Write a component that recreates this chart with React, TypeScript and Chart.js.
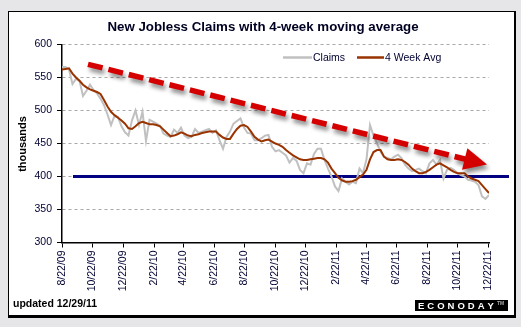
import React, { useEffect, useRef } from "react";
import { Chart, registerables } from "chart.js";

Chart.register(...registerables);

const FONT = "'Liberation Sans', Arial, sans-serif";

// x-axis tick labels (every two months)
const tickLabels = [
  "8/22/09", "10/22/09", "12/22/09", "2/22/10", "4/22/10", "6/22/10", "8/22/10",
  "10/22/10", "12/22/10", "2/22/11", "4/22/11", "6/22/11", "8/22/11", "10/22/11", "12/22/11",
];
const firstWeek = "8/22/09"; // week ending dates, weekly from here
const yTicks = [300, 350, 400, 450, 500, 550, 600];

// weekly initial claims (thousands)
const claims = [
  566, 566, 562, 540, 548, 545, 522, 530, 539, 531,
  526, 518, 508, 494, 478, 492, 490, 476, 467, 462,
  485, 500, 478, 498, 454, 486, 483, 480, 477, 465,
  462, 460, 471, 466, 474, 462, 458, 460, 472, 466,
  468, 470, 472, 466, 470, 455, 442, 460, 468, 480,
  484, 488, 474, 466, 465, 455, 455, 458, 462, 463,
  445, 438, 440, 436, 432, 421, 428, 424, 410, 405,
  420, 418, 434, 442, 442, 425, 412, 400, 385, 378,
  397, 392, 388, 392, 390, 412, 405, 426, 478, 462,
  450, 438, 430, 428, 426, 430, 433, 428, 418, 412,
  408, 410, 412, 408, 405, 420, 425, 418, 425, 397,
  410, 413, 410, 405, 402, 400, 395, 394, 392, 387,
  370, 366, 372,
];

// 4-week moving average (thousands)
const avg4 = [
  562, 563, 564, 556, 550, 545, 539, 535, 532, 530,
  528, 525, 516, 506, 498, 493, 489, 485, 480, 473,
  472, 476, 481, 483, 481, 479, 479, 478, 476, 471,
  466, 461, 462, 464, 467, 465, 462, 461, 463, 464,
  466, 467, 468, 468, 468, 463, 459, 457, 457, 465,
  472, 477, 478, 475, 468, 460, 456, 453, 455, 456,
  453, 450, 448, 445, 440, 436, 432, 429, 426, 425,
  425, 426, 427, 428, 428, 426, 421, 412, 405, 398,
  394, 392, 392, 393, 395, 399, 403, 410, 426, 437,
  440, 440, 430, 426, 425, 425, 426, 425, 422, 418,
  412, 408, 405, 405, 407, 410, 414, 418, 420, 417,
  414, 410, 407, 405, 405, 405, 400, 397, 395, 393,
  387, 381, 375,
];

// annotations (in data units: date label, value)
const refLineValue = 400;
const refLineFrom = "9/13/09";
const refLineTo = "2/02/12";
const arrowFrom = { date: "10/13/09", value: 570 };
const arrowTo = { date: "12/20/11", value: 418 };

function dayOf(label: string): number {
  const [m, d, y] = label.split("/").map(Number);
  const base = firstWeek.split("/").map(Number);
  const t = Date.UTC(2000 + y, m - 1, d);
  const t0 = Date.UTC(2000 + base[2], base[0] - 1, base[1]);
  return Math.round((t - t0) / 86400000);
}

const tickDays = tickLabels.map(dayOf);
const claimsPts = claims.map((v, i) => ({ x: i * 7, y: v }));
const avgPts = avg4.map((v, i) => ({ x: i * 7, y: v }));
const xMax = (claims.length - 1) * 7;

const decor = {
  id: "decor",
  beforeDraw(chart: any) {
    const ctx = chart.ctx as CanvasRenderingContext2D;
    ctx.save();
    ctx.fillStyle = "#e6e6e8";
    ctx.fillRect(0, 0, chart.width, chart.height);
    ctx.fillStyle = "#000";
    ctx.fillRect(8, 11, 508, 307);
    ctx.fillStyle = "#fff";
    ctx.fillRect(9, 12, 505, 303);
    ctx.restore();
  },
  beforeDatasetsDraw(chart: any) {
    const ctx = chart.ctx as CanvasRenderingContext2D;
    const xs = chart.scales.x;
    const ys = chart.scales.y;
    ctx.save();
    ctx.strokeStyle = "#000080";
    ctx.lineWidth = 3;
    const y = ys.getPixelForValue(refLineValue);
    ctx.beginPath();
    ctx.moveTo(xs.getPixelForValue(dayOf(refLineFrom)), y);
    ctx.lineTo(xs.getPixelForValue(dayOf(refLineTo)), y);
    ctx.stroke();
    ctx.restore();
  },
  afterDraw(chart: any) {
    const ctx = chart.ctx as CanvasRenderingContext2D;
    const xs = chart.scales.x;
    const ys = chart.scales.y;

    // red dashed arrow with shadow
    const x1 = xs.getPixelForValue(dayOf(arrowFrom.date));
    const y1 = ys.getPixelForValue(arrowFrom.value);
    const x2 = xs.getPixelForValue(dayOf(arrowTo.date));
    const y2 = ys.getPixelForValue(arrowTo.value);
    const len = Math.hypot(x2 - x1, y2 - y1);
    const ux = (x2 - x1) / len;
    const uy = (y2 - y1) / len;
    const headLen = 23;
    const headHalf = 11;
    const bx = x2 - ux * headLen;
    const by = y2 - uy * headLen;
    ctx.save();
    ctx.shadowColor = "rgba(0,0,0,0.45)";
    ctx.shadowBlur = 4;
    ctx.shadowOffsetX = 2;
    ctx.shadowOffsetY = 4;
    ctx.strokeStyle = "#d40000";
    ctx.fillStyle = "#d40000";
    ctx.lineWidth = 5.5;
    ctx.setLineDash([15, 6]);
    ctx.beginPath();
    ctx.moveTo(x1, y1);
    ctx.lineTo(bx + ux * 2, by + uy * 2);
    ctx.stroke();
    ctx.setLineDash([]);
    ctx.beginPath();
    ctx.moveTo(x2, y2);
    ctx.lineTo(bx - uy * headHalf, by + ux * headHalf);
    ctx.lineTo(bx + uy * headHalf, by - ux * headHalf);
    ctx.closePath();
    ctx.fill();
    ctx.restore();

    ctx.save();
    // title
    ctx.fillStyle = "#000022";
    ctx.font = `bold 13.3px ${FONT}`;
    ctx.textAlign = "center";
    ctx.textBaseline = "middle";
    ctx.fillText("New Jobless Claims with 4-week moving average", 263, 27);

    // legend
    ctx.lineWidth = 2.5;
    ctx.strokeStyle = "#c0c0c0";
    ctx.beginPath();
    ctx.moveTo(283, 57.5);
    ctx.lineTo(312, 57.5);
    ctx.stroke();
    ctx.strokeStyle = "#993300";
    ctx.beginPath();
    ctx.moveTo(357, 57.5);
    ctx.lineTo(384, 57.5);
    ctx.stroke();
    ctx.font = `10.5px ${FONT}`;
    ctx.textAlign = "left";
    ctx.fillStyle = "#000033";
    ctx.fillText("Claims", 313, 58);
    ctx.fillText("4 Week Avg", 385, 58);

    // y title
    ctx.save();
    ctx.translate(23, 144);
    ctx.rotate(-Math.PI / 2);
    ctx.font = `bold 11px ${FONT}`;
    ctx.textAlign = "center";
    ctx.fillStyle = "#000";
    ctx.fillText("thousands", 0, 0);
    ctx.restore();

    // footer
    ctx.font = `bold 10.5px ${FONT}`;
    ctx.fillStyle = "#000";
    ctx.textAlign = "left";
    ctx.fillText("updated 12/29/11", 13, 304);

    // logo
    ctx.fillStyle = "#000";
    ctx.fillRect(415, 300, 93, 11);
    ctx.fillStyle = "#fff";
    ctx.font = `bold 9.5px ${FONT}`;
    const word = "ECONODAY";
    let lx = 418;
    for (const ch of word) {
      ctx.fillText(ch, lx, 306);
      lx += ctx.measureText(ch).width + 3;
    }
    ctx.fillStyle = "#aaa";
    ctx.font = `bold 5px ${FONT}`;
    ctx.fillText("TM", lx, 304);
    ctx.restore();
  },
};

export default function App() {
  const ref = useRef<HTMLCanvasElement>(null);
  useEffect(() => {
    const canvas = ref.current!;
    const chart = new Chart(canvas, {
      type: "line",
      data: {
        datasets: [
          {
            label: "4 Week Avg",
            data: avgPts,
            borderColor: "#993300",
            borderWidth: 2,
            pointRadius: 0,
            tension: 0,
            order: 1,
          },
          {
            label: "Claims",
            data: claimsPts,
            borderColor: "#c0c0c0",
            borderWidth: 2,
            pointRadius: 0,
            tension: 0,
            order: 2,
          },
        ],
      },
      options: {
        animation: false,
        responsive: false,
        devicePixelRatio: 1,
        parsing: false as any,
        layout: { padding: { left: 0, right: 32, top: 44.5, bottom: 24.5 } },
        plugins: {
          legend: { display: false },
          tooltip: { enabled: false },
          title: { display: false },
        },
        scales: {
          x: {
            type: "linear",
            min: 0,
            max: xMax,
            afterBuildTicks: (s: any) => {
              s.ticks = tickDays.map((v) => ({ value: v }));
            },
            afterFit: (s: any) => {
              s.height = 60;
            },
            ticks: {
              autoSkip: false,
              maxRotation: 90,
              minRotation: 90,
              padding: 3,
              color: "#000033",
              font: { family: FONT, size: 10.5 },
              callback: (_v: any, i: number) => tickLabels[i],
            },
            grid: {
              drawOnChartArea: false,
              tickLength: 5,
              tickColor: "#000",
              color: "#000",
            },
            border: { color: "#000", width: 1.5 },
          },
          y: {
            min: 300,
            max: 600,
            afterBuildTicks: (s: any) => {
              s.ticks = yTicks.map((v) => ({ value: v }));
            },
            afterFit: (s: any) => {
              s.width = 62;
            },
            ticks: {
              padding: 5,
              color: "#000033",
              font: { family: FONT, size: 10.5 },
            },
            grid: {
              color: "#a8a8a8",
              lineWidth: 1,
              tickLength: 5,
              tickColor: "#000",
            },
            border: { color: "#000", width: 1.5, dash: [3, 3] },
          },
        },
      },
      plugins: [decor],
    });
    return () => chart.destroy();
  }, []);
  return (
    <div style={{ position: "fixed", left: 0, top: 0, width: 521, height: 327, background: "#e6e6e8" }}>
      <canvas ref={ref} width={521} height={327} style={{ display: "block", width: 521, height: 327 }} />
    </div>
  );
}
